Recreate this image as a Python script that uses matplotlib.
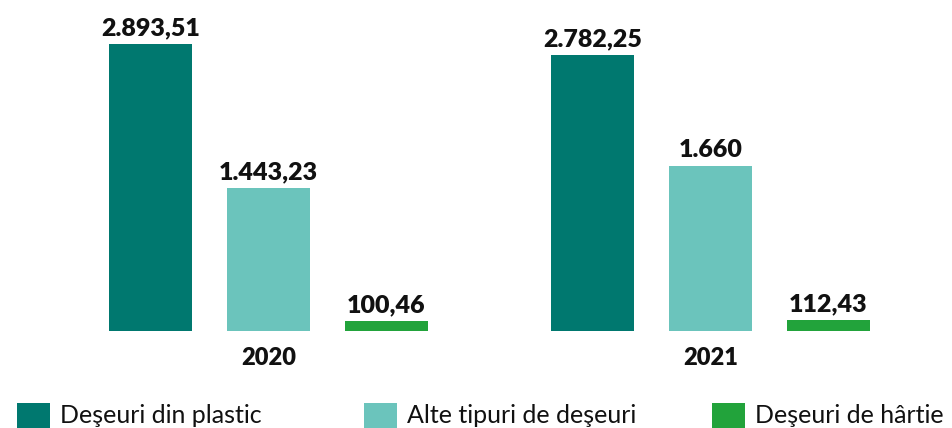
import numpy as np
import matplotlib.pyplot as plt

years = ["2020", "2021"]
categories = ["Deşeuri din plastic", "Alte tipuri de deşeuri", "Deşeuri de hârtie"]
plastic = [2893.51, 2782.25]
other = [1443.23, 1660.0]
paper = [100.46, 112.43]
colors = ["#00786F", "#6BC4BC", "#22A33B"]

series = [plastic, other, paper]


def ro_format(v):
    # Romanian style: dot for thousands, comma for decimals
    if float(v).is_integer():
        s = "{:,.0f}".format(v)
    else:
        s = "{:,.2f}".format(v)
    return s.replace(",", "X").replace(".", ",").replace("X", ".")


plt.rcParams['font.family'] = ['Lato', 'DejaVu Sans']

fig = plt.figure(figsize=(9.53, 4.28), dpi=100)
ax = fig.add_axes([0, 0, 1, 1])

scale = 0.0992  # pixels per unit
ax.set_ylim(-97 / scale, 331 / scale)
ax.set_xlim(-0.6075, 1.5486)

step = 0.267
width = 0.188
x = np.arange(len(years))

handles = []
for i, (vals, col) in enumerate(zip(series, colors)):
    pos = x + (i - 1) * step
    b = ax.bar(pos, vals, width=width, color=col, label=categories[i])
    handles.append(b)
    for p, v in zip(pos, vals):
        ax.annotate(ro_format(v), xy=(p, v), xytext=(0, 9),
                    textcoords="offset pixels", ha="center", va="baseline",
                    fontsize=18, fontweight="heavy", color="#111111")

for xi, yr in zip(x, years):
    ax.annotate(yr, xy=(xi, 0), xytext=(0, -34), textcoords="offset pixels",
                ha="center", va="baseline", fontsize=17, fontweight="heavy",
                color="#111111")

ax.axis("off")

# three legend entries laid out across the bottom
leg_x = [17, 364, 712]
for h, lab, lx in zip(handles, categories, leg_x):
    leg = fig.legend([h], [lab], loc="lower left",
                     bbox_to_anchor=(lx / 953, 0.5 / 428),
                     frameon=False, fontsize=18, handlelength=1.32,
                     handleheight=1.16, handletextpad=0.4,
                     borderpad=0, borderaxespad=0)
    for t in leg.get_texts():
        t.set_color("#111111")

fig.savefig("out.png", dpi=100)
